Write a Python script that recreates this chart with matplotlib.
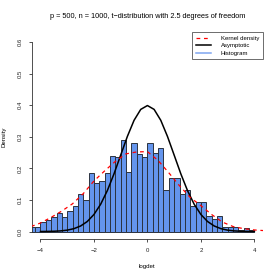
import numpy as np
import matplotlib
matplotlib.use("Agg")
import matplotlib.pyplot as plt
from matplotlib.lines import Line2D

plt.rcParams['font.family'] = ['Liberation Sans', 'DejaVu Sans']

# histogram: left bin edges (width 0.2) and densities
bin_left = np.round(np.arange(-4.4, 4.0, 0.2), 2)
bin_dens = [0.015, 0.015, 0.030, 0.035, 0.045, 0.060, 0.045, 0.065, 0.080, 0.120,
            0.100, 0.185, 0.155, 0.160, 0.185, 0.240, 0.235, 0.290, 0.190, 0.280,
            0.245, 0.235, 0.280, 0.250, 0.265, 0.130, 0.170, 0.170, 0.120, 0.130,
            0.080, 0.095, 0.095, 0.050, 0.040, 0.050, 0.015, 0.015, 0.015, 0.005,
            0.010, 0.005]

# kernel density estimate (read points)
kde_x = [-4.35, -4.0, -3.6, -3.2, -2.8, -2.4, -2.0, -1.6, -1.2, -0.8, -0.4, 0.0,
         0.4, 0.8, 1.2, 1.6, 2.0, 2.4, 2.8, 3.2, 3.6, 4.0, 4.35]
kde_y = [0.016, 0.027, 0.045, 0.065, 0.088, 0.120, 0.160, 0.192, 0.222, 0.246,
         0.252, 0.253, 0.225, 0.186, 0.145, 0.108, 0.082, 0.054, 0.030, 0.016,
         0.009, 0.005, 0.003]

# asymptotic curve (read points)
asy_x = np.arange(-4.0, 4.01, 0.25)
asy_half = [0.0001, 0.0004, 0.0009, 0.0020, 0.0044, 0.0091, 0.0175, 0.0317,
            0.0540, 0.0863, 0.1295, 0.1826, 0.2420, 0.3011, 0.3521, 0.3867, 0.3989]
asy_y = asy_half + asy_half[-2::-1]

bar_col = '#6495ED'

fig = plt.figure(figsize=(2.8, 2.8), dpi=100)
ax = fig.add_axes([0.114, 0.146, 0.825, 0.731])

ax.bar(bin_left, bin_dens, width=0.2, align='edge', color=bar_col,
       edgecolor='#2b3340', linewidth=0.7, zorder=2)
ax.plot(asy_x, asy_y, color='black', lw=1.1, zorder=3)
ax.plot(kde_x, kde_y, color='red', lw=0.9, ls=(0, (3, 3)), zorder=4)

ax.set_xlim(-4.32, 4.32)
ax.set_ylim(-0.024, 0.624)
ax.set_xticks([-4, -2, 0, 2, 4])
ax.set_xticklabels(['\u22124', '\u22122', '0', '2', '4'])
ax.set_yticks([0.0, 0.1, 0.2, 0.3, 0.4, 0.5, 0.6])
ax.set_yticklabels(['0.0', '0.1', '0.2', '0.3', '0.4', '0.5', '0.6'],
                   rotation=90, va='center')

for s in ['top', 'right']:
    ax.spines[s].set_visible(False)
ax.spines['bottom'].set_bounds(-4, 4)
ax.spines['left'].set_bounds(0, 0.6)
for s in ['bottom', 'left']:
    ax.spines[s].set_linewidth(0.6)
    ax.spines[s].set_color('#333333')
ax.tick_params(axis='both', direction='out', length=2.3, width=0.6,
               color='#333333', labelsize=4.3, labelcolor='#222222', pad=4.2)

ax.set_xlabel('logdet', fontsize=4.4, labelpad=7.5)
ax.set_ylabel('Density', fontsize=4.4, labelpad=8)
ax.set_title('p = 500, n = 1000, t\u2212distribution with 2.5 degrees of freedom',
             fontsize=5.3, pad=12)

handles = [Line2D([], [], color='red', lw=0.9, ls=(0, (3, 3))),
           Line2D([], [], color='black', lw=1.1),
           Line2D([], [], color='#7fa6f0', lw=1.1)]
leg = ax.legend(handles, ['Kernel density', 'Asymptotic', 'Histogram'],
                loc='upper right', bbox_to_anchor=(1.0, 1.01), borderaxespad=0,
                fontsize=4.3, fancybox=False, framealpha=1, edgecolor='#555555',
                handlelength=2.6, handletextpad=1.6, labelspacing=0.35,
                borderpad=0.6)
leg.get_frame().set_linewidth(0.6)

fig.savefig('out.png', dpi=100)
